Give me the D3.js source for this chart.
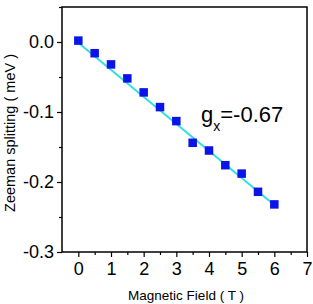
<!DOCTYPE html>
<html>
<head>
<meta charset="utf-8">
<script src="https://cdn.jsdelivr.net/npm/d3@7"></script>
<style>
  body { margin: 0; background: #fff; }
  text { font-family: "Liberation Sans", Arial, sans-serif; }
</style>
</head>
<body>
<svg id="chart" width="313" height="304"></svg>
<script>
// Data
const field = [0, 0.5, 1, 1.5, 2, 2.5, 3, 3.5, 4, 4.5, 5, 5.5, 6];
const splitting = [0.002, -0.016, -0.032, -0.052, -0.072, -0.093, -0.113, -0.144, -0.155, -0.176, -0.188, -0.214, -0.232];
const fitX = [0, 6];
const fitY = [-0.001, -0.233];
const xTicks = [0, 1, 2, 3, 4, 5, 6, 7];
const yTicks = [0.0, -0.1, -0.2, -0.3];

const svg = d3.select("#chart");
const mLeft = 62, mRight = 307, mTop = 7, mBottom = 252;

const x = d3.scaleLinear().domain([-0.5, 7]).range([mLeft, mRight]);
const y = d3.scaleLinear().domain([-0.3, 0.05]).range([mBottom, mTop]);

// frame
svg.append("rect")
  .attr("x", mLeft).attr("y", mTop)
  .attr("width", mRight - mLeft).attr("height", mBottom - mTop)
  .attr("fill", "none").attr("stroke", "#000").attr("stroke-width", 1.5);

// x axis
const xAxis = svg.append("g")
  .attr("transform", `translate(0,${mBottom})`)
  .call(d3.axisBottom(x).tickValues(xTicks).tickSize(5).tickFormat(d3.format("d")));
svg.append("g")
  .attr("transform", `translate(0,${mBottom})`)
  .call(d3.axisBottom(x).tickValues(d3.range(0.5, 7, 1)).tickSize(3).tickFormat(""));

// y axis
const yAxis = svg.append("g")
  .attr("transform", `translate(${mLeft},0)`)
  .call(d3.axisLeft(y).tickValues(yTicks).tickSize(5).tickFormat(d3.format(".1f")));
svg.append("g")
  .attr("transform", `translate(${mLeft},0)`)
  .call(d3.axisLeft(y).tickValues([0.05, -0.05, -0.15, -0.25]).tickSize(3).tickFormat(""));

svg.selectAll(".domain").remove();
svg.selectAll(".tick line").attr("stroke", "#000").attr("stroke-width", 1.2);
xAxis.attr("font-family", null).attr("font-size", null);
yAxis.attr("font-family", null).attr("font-size", null);
xAxis.selectAll(".tick text")
  .style("font-size", "18px").attr("dy", "0.71em").attr("y", 10).attr("fill", "#000");
yAxis.selectAll(".tick text")
  .style("font-size", "18px").attr("x", -8).attr("fill", "#000")
  .text(d => d === 0 ? "0.0" : d3.format(".1f")(d).replace("−", "-"));

// axis labels
svg.append("text")
  .attr("x", 186).attr("y", 300)
  .attr("text-anchor", "middle").style("font-size", "13.5px")
  .text("Magnetic Field ( T )");
svg.append("text")
  .attr("transform", "translate(15,133) rotate(-90)")
  .attr("text-anchor", "middle").style("font-size", "14.5px")
  .text("Zeeman splitting ( meV )");

// fit line
svg.append("line")
  .attr("x1", x(fitX[0])).attr("y1", y(fitY[0]))
  .attr("x2", x(fitX[1])).attr("y2", y(fitY[1]))
  .attr("stroke", "#33dde8").attr("stroke-width", 2);

// markers
const s = 8.5;
svg.append("g").selectAll("rect")
  .data(field)
  .enter()
  .append("rect")
    .attr("x", (d) => x(d) - s / 2)
    .attr("y", (d, i) => y(splitting[i]) - s / 2)
    .attr("width", s).attr("height", s)
    .attr("fill", "#0a14e6");

// annotation
const ann = svg.append("text")
  .attr("x", 201).attr("y", 122)
  .style("font-size", "22px").attr("fill", "#000");
ann.append("tspan").text("g");
ann.append("tspan").style("font-size", "14px").attr("dy", 9).text("x");
ann.append("tspan").attr("dy", -9).text("=-0.67");
</script>
</body>
</html>
